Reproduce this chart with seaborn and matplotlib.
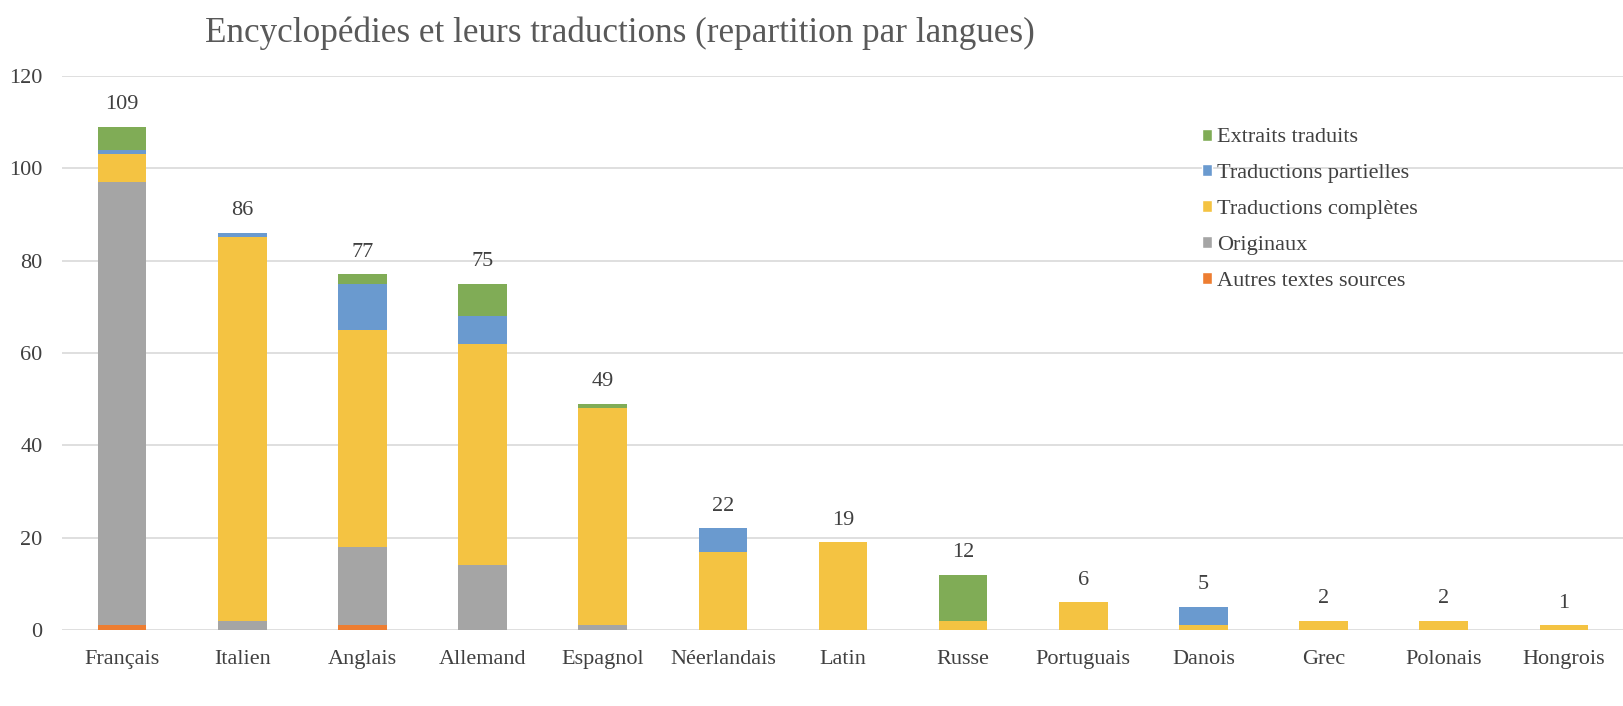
import numpy as np
import pandas as pd
import matplotlib
matplotlib.use("Agg")
import matplotlib.pyplot as plt
import seaborn as sns
from matplotlib.patches import Patch

# Data
langues = ["Français", "Italien", "Anglais", "Allemand", "Espagnol", "Néerlandais",
           "Latin", "Russe", "Portuguais", "Danois", "Grec", "Polonais", "Hongrois"]
autres = [1, 0, 1, 0, 0, 0, 0, 0, 0, 0, 0, 0, 0]
originaux = [96, 2, 17, 14, 1, 0, 0, 0, 0, 0, 0, 0, 0]
completes = [6, 83, 47, 48, 47, 17, 19, 2, 6, 1, 2, 2, 1]
partielles = [1, 1, 10, 6, 0, 5, 0, 0, 0, 4, 0, 0, 0]
extraits = [5, 0, 2, 7, 1, 0, 0, 10, 0, 0, 0, 0, 0]

series = [
    ("Autres textes sources", autres, "#ED7D31"),
    ("Originaux", originaux, "#A5A5A5"),
    ("Traductions complètes", completes, "#F4C342"),
    ("Traductions partielles", partielles, "#6A9ACF"),
    ("Extraits traduits", extraits, "#80AC56"),
]

df = pd.DataFrame({"langue": langues})
cum = np.zeros(len(langues))
cums = []
for name, vals, col in series:
    cum = cum + np.array(vals)
    cums.append((name, cum.copy(), col))

sns.set_style("white")
plt.rcParams["font.family"] = ["Liberation Serif", "DejaVu Serif"]
text_col = "#404040"

fig = plt.figure(figsize=(16.24, 7.06), dpi=100)
ax = fig.add_axes([0.0382, 0.1076, 0.9618, 0.785])

# draw cumulative totals from top to bottom so each layer shows its own segment
for name, c, col in reversed(cums):
    df["v"] = c
    sns.barplot(data=df, x="langue", y="v", color=col, width=0.405,
                saturation=1, ax=ax, order=langues, edgecolor="none")

totals = cums[-1][1]
for i, t in enumerate(totals):
    ax.text(i, t + 2.7, f"{int(t)}", ha="center", va="bottom",
            fontsize=16, color=text_col)

ax.set_ylim(0, 120)
ax.set_xlim(-0.5, 12.5)
ax.set_yticks(range(0, 121, 20))
ax.yaxis.grid(True, color="#D9D9D9", linewidth=1.2)
ax.set_axisbelow(True)
for s in ax.spines.values():
    s.set_visible(False)
ax.set_xlabel("")
ax.set_ylabel("")
ax.tick_params(axis="both", length=0, labelsize=16, labelcolor=text_col)
ax.tick_params(axis="y", pad=14)
ax.tick_params(axis="x", pad=14.5)

handles = [Patch(facecolor=col, label=name) for name, _, col in reversed(cums)]
fig.legend(handles=handles, loc="upper left", bbox_to_anchor=(0.740, 0.818),
           frameon=False, fontsize=16, labelcolor=text_col,
           borderpad=0, borderaxespad=0,
           handlelength=0.45, handleheight=0.45, handletextpad=0.25,
           labelspacing=0.76)

fig.text(0.382, 0.941, "Encyclopédies et leurs traductions (repartition par langues)",
         ha="center", va="baseline", fontsize=25.3, color="#595959")

fig.savefig("out.png", dpi=100)
